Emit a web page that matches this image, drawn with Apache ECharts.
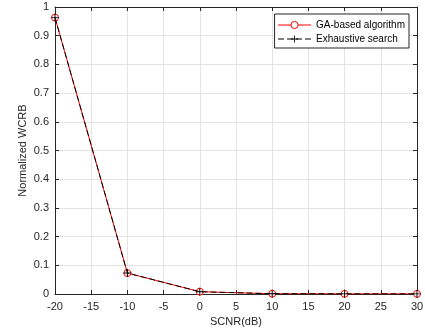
<!DOCTYPE html>
<html><head><meta charset="utf-8">
<script src="https://cdn.jsdelivr.net/npm/echarts@6/dist/echarts.min.js"></script>
<style>html,body{margin:0;padding:0;background:#fff}#c{width:425px;height:330px}</style>
</head><body><div id="c"></div>
<script>
const scnr = [-20, -10, 0, 10, 20, 30];
const gaValues = [0.963, 0.073, 0.008, 0.001, 0.0005, 0.0004];
const exhaustiveValues = [0.963, 0.073, 0.008, 0.001, 0.0005, 0.0004];
const seriesNames = ['GA-based algorithm', 'Exhaustive search'];
const xName = 'SCNR(dB)';
const yName = 'Normalized WCRB';

const font = 'Liberation Sans, Arial, sans-serif';
const chart = echarts.init(document.getElementById('c'));
const axisCommon = {
  axisLine: {show: true, onZero: false, lineStyle: {color: '#262626', width: 1}},
  axisTick: {show: true, inside: true, length: 4, lineStyle: {color: '#262626'}},
};
const plus = 'path://M4.4,0H5.6V4.4H10V5.6H5.6V10H4.4V5.6H0V4.4H4.4Z';
chart.setOption({
  animation: false,
  textStyle: {fontFamily: font},
  grid: {left: 55, right: 8, top: 7, bottom: 36, containLabel: false, outerBoundsMode: 'none'},
  xAxis: [
    Object.assign({type: 'value', min: -20, max: 30, interval: 5,
      name: xName, nameLocation: 'middle', nameGap: 22, nameMoveOverlap: false,
      nameTextStyle: {color: '#262626', fontSize: 11, fontFamily: font},
      axisLabel: {color: '#262626', fontSize: 11, margin: 7, fontFamily: font},
      splitLine: {show: true, lineStyle: {color: '#e3e3e3', width: 1}}}, axisCommon),
    Object.assign({type: 'value', position: 'top', min: -20, max: 30, interval: 5,
      axisLabel: {show: false}, splitLine: {show: false}}, axisCommon)
  ],
  yAxis: [
    Object.assign({type: 'value', min: 0, max: 1, interval: 0.1,
      name: yName, nameLocation: 'middle', nameGap: 27, nameMoveOverlap: false,
      nameTextStyle: {color: '#262626', fontSize: 11, fontFamily: font},
      axisLabel: {color: '#262626', fontSize: 11, margin: 6, fontFamily: font,
        formatter: v => String(Math.round(v * 10) / 10)},
      splitLine: {show: true, lineStyle: {color: '#e3e3e3', width: 1}}}, axisCommon),
    Object.assign({type: 'value', position: 'right', min: 0, max: 1, interval: 0.1,
      axisLabel: {show: false}, splitLine: {show: false}}, axisCommon)
  ],
  legend: {
    right: 16, top: 14, orient: 'vertical',
    backgroundColor: '#fff', borderColor: '#262626', borderWidth: 1, borderRadius: 0,
    padding: [6, 4, 4, 3], itemGap: 4, itemWidth: 33, itemHeight: 9,
    textStyle: {fontSize: 10, color: '#000', fontFamily: font},
    lineStyle: {width: 1},
    itemStyle: {borderWidth: 1},
    data: seriesNames
  },
  series: [
    {name: seriesNames[0], type: 'line', data: scnr.map((x, i) => [x, gaValues[i]]),
      lineStyle: {color: '#ff0000', width: 1}, itemStyle: {color: '#fff', borderColor: '#ff0000', borderWidth: 1},
      symbol: 'circle', symbolSize: 7, showSymbol: true, z: 2},
    {name: seriesNames[1], type: 'line', data: scnr.map((x, i) => [x, exhaustiveValues[i]]),
      lineStyle: {color: '#000', width: 1, type: [6, 3]}, itemStyle: {color: '#000', borderWidth: 0},
      symbol: plus, symbolSize: 8, showSymbol: true, z: 3}
  ]
});
</script></body></html>
